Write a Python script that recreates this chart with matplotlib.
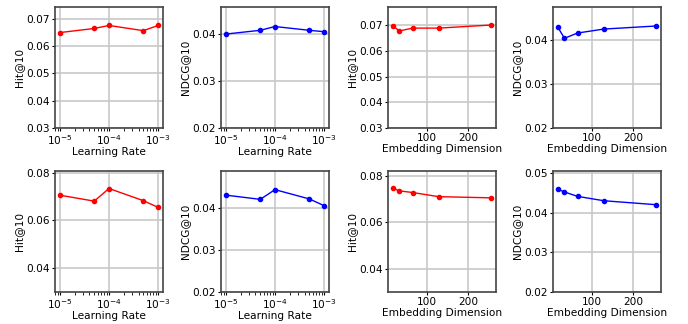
import numpy as np
import matplotlib
matplotlib.use("Agg")
import matplotlib.pyplot as plt

learning_rates = [1e-5, 5e-5, 1e-4, 5e-4, 1e-3]
embedding_dims = [16, 32, 64, 128, 256]

# top row
hit_lr_1 = [0.0649, 0.0664, 0.0675, 0.0656, 0.0675]
ndcg_lr_1 = [0.0400, 0.0408, 0.0416, 0.0408, 0.0405]
hit_ed_1 = [0.0696, 0.0677, 0.0688, 0.0688, 0.0700]
ndcg_ed_1 = [0.0429, 0.0404, 0.0416, 0.0425, 0.0432]

# bottom row
hit_lr_2 = [0.0706, 0.0681, 0.0734, 0.0683, 0.0655]
ndcg_lr_2 = [0.0430, 0.0420, 0.0443, 0.0421, 0.0405]
hit_ed_2 = [0.0747, 0.0736, 0.0729, 0.0711, 0.0706]
ndcg_ed_2 = [0.0459, 0.0452, 0.0441, 0.0430, 0.0420]

plt.rcParams['font.size'] = 7.6

def drawPanel(ax, x, y, color, ylabel, xlabel, bottom, logx):
	ax.plot(x, y, color=color, marker='o', markersize=3, linewidth=1)
	if logx:
		ax.set_xscale('log')
	ax.set_ylim(bottom, max(y) * 1.1)
	ax.set_xlabel(xlabel, labelpad=0.5)
	ax.set_ylabel(ylabel, labelpad=2)
	ax.grid(True, color='#c8c8c8', linewidth=1.2)
	for s in ax.spines.values():
		s.set_linewidth(1.2)
		s.set_color('#444444')
	ax.tick_params(length=2.5, pad=1)

fig = plt.figure(figsize=(6.88, 3.24), dpi=100)
lefts = [55, 221, 388, 553]
tops = [7, 171]
w, h = 108, 121
axes = [[fig.add_axes([l / 688, 1 - (t + h) / 324, w / 688, h / 324]) for l in lefts] for t in tops]

rows = [(hit_lr_1, ndcg_lr_1, hit_ed_1, ndcg_ed_1), (hit_lr_2, ndcg_lr_2, hit_ed_2, ndcg_ed_2)]
for r, (hl, nl, he, ne) in enumerate(rows):
	drawPanel(axes[r][0], learning_rates, hl, 'red', 'Hit@10', 'Learning Rate', 0.03, True)
	drawPanel(axes[r][1], learning_rates, nl, 'blue', 'NDCG@10', 'Learning Rate', 0.02, True)
	drawPanel(axes[r][2], embedding_dims, he, 'red', 'Hit@10', 'Embedding Dimension', 0.03, False)
	drawPanel(axes[r][3], embedding_dims, ne, 'blue', 'NDCG@10', 'Embedding Dimension', 0.02, False)

fig.savefig('out.png', dpi=100)
